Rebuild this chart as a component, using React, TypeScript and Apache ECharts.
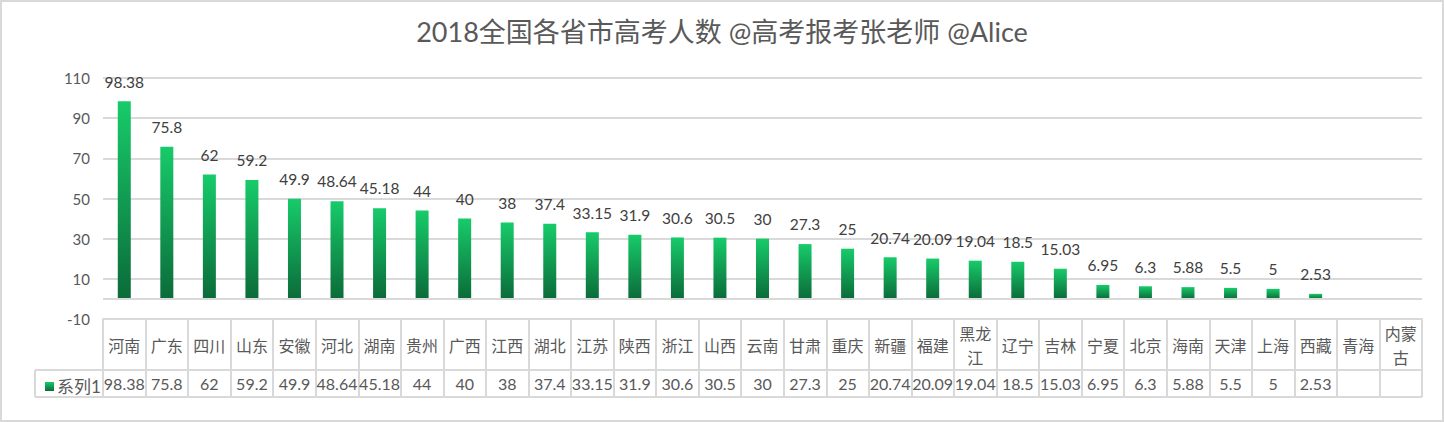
import React, { useEffect, useRef } from 'react'
import * as echarts from 'echarts'

const title = '2018全国各省市高考人数 @高考报考张老师 @Alice'
const seriesName = '系列1'

const provinces = [
  '河南', '广东', '四川', '山东', '安徽', '河北', '湖南', '贵州', '广西', '江西',
  '湖北', '江苏', '陕西', '浙江', '山西', '云南', '甘肃', '重庆', '新疆', '福建',
  '黑龙江', '辽宁', '吉林', '宁夏', '北京', '海南', '天津', '上海', '西藏', '青海', '内蒙古'
]

const examinees: (number | null)[] = [
  98.38, 75.8, 62, 59.2, 49.9, 48.64, 45.18, 44, 40, 38,
  37.4, 33.15, 31.9, 30.6, 30.5, 30, 27.3, 25, 20.74, 20.09,
  19.04, 18.5, 15.03, 6.95, 6.3, 5.88, 5.5, 5, 2.53, null, null
]

const yMin = -10
const yMax = 110
const yStep = 20

const GRID_LEFT = 103
const GRID_RIGHT = 22
const GRID_TOP = 78
const PLOT_BOTTOM = 319
const ROW_MID = 370
const TABLE_BOTTOM = 397
const LEGEND_LEFT = 35
const W = 1444
const H = 422

const lineColor = '#d9d9d9'
const textColor = '#595959'
const numFont = 'Lato, "Noto Sans CJK SC", sans-serif'
const cjkFont = '"Noto Sans CJK SC", sans-serif'

const barFill = new echarts.graphic.LinearGradient(0, 0, 0, 1, [
  { offset: 0, color: '#17cb6a' },
  { offset: 1, color: '#0b6b39' }
])

// two-line labels for the long names, as in the table
const wrapName = (v: string) => (v.length > 2 ? v.slice(0, 2) + '\n' + v.slice(2) : v)

const App: React.FC = () => {
  const chartRef = useRef<HTMLDivElement>(null)

  useEffect(() => {
    document.body.style.margin = '0'
    if (!chartRef.current) return
    const chart = echarts.init(chartRef.current, undefined, { renderer: 'svg' })

    const option: echarts.EChartsOption = {
      animation: false,
      backgroundColor: '#ffffff',
      title: {
        text: title,
        left: 'center',
        top: 13,
        textStyle: {
          fontSize: 27,
          fontWeight: 'normal',
          color: textColor,
          fontFamily: numFont
        }
      },
      legend: {
        data: [seriesName],
        left: LEGEND_LEFT + 5,
        top: ROW_MID + 3,
        icon: 'rect',
        itemWidth: 9,
        itemHeight: 9,
        itemGap: 4,
        selectedMode: false,
        textStyle: { fontSize: 17, color: textColor, fontFamily: numFont, padding: [0, 0, 0, -2] }
      },
      grid: {
        left: GRID_LEFT,
        right: GRID_RIGHT,
        top: GRID_TOP,
        bottom: H - PLOT_BOTTOM,
        containLabel: false
      },
      xAxis: [
        {
          type: 'category',
          data: provinces,
          position: 'bottom',
          axisLine: { onZero: false, lineStyle: { color: lineColor, width: 2 } },
          axisTick: {
            show: true,
            interval: 0,
            length: TABLE_BOTTOM - PLOT_BOTTOM,
            lineStyle: { color: lineColor, width: 2 }
          },
          axisLabel: {
            interval: 0,
            margin: 26,
            verticalAlign: 'middle',
            fontSize: 16,
            lineHeight: 24,
            color: textColor,
            fontFamily: cjkFont,
            formatter: wrapName
          }
        },
        {
          type: 'category',
          data: examinees.map(v => (v == null ? '' : String(v))),
          position: 'bottom',
          offset: 0,
          axisLine: { show: false, onZero: false },
          axisTick: { show: false },
          axisLabel: {
            interval: 0,
            margin: 64,
            verticalAlign: 'middle',
            fontSize: 16,
            color: textColor,
            fontFamily: numFont
          }
        }
      ],
      yAxis: {
        type: 'value',
        min: yMin,
        max: yMax,
        interval: yStep,
        axisLine: { show: false },
        axisTick: { show: false },
        axisLabel: { fontSize: 15, color: textColor, margin: 13, fontFamily: numFont },
        splitLine: { lineStyle: { color: lineColor, width: 2 } }
      },
      series: [
        {
          name: seriesName,
          type: 'bar',
          data: examinees,
          barWidth: 13,
          itemStyle: { color: barFill },
          label: {
            show: true,
            position: 'top',
            distance: 12,
            fontSize: 15.5,
            color: '#404040',
            fontFamily: numFont
          },
          markLine: {
            silent: true,
            symbol: 'none',
            label: { show: false },
            lineStyle: { color: lineColor, width: 2, type: 'solid' },
            data: [{ yAxis: 0 }]
          }
        }
      ],
      graphic: [
        {
          type: 'rect',
          shape: { x: 1, y: 1, width: W - 2, height: H - 2 },
          style: { fill: 'none', stroke: lineColor, lineWidth: 2 },
          silent: true,
          z: -10
        },
        {
          type: 'line',
          shape: { x1: LEGEND_LEFT, y1: ROW_MID, x2: W - GRID_RIGHT, y2: ROW_MID },
          style: { stroke: lineColor, lineWidth: 2 },
          silent: true
        },
        {
          type: 'line',
          shape: { x1: LEGEND_LEFT, y1: TABLE_BOTTOM, x2: W - GRID_RIGHT, y2: TABLE_BOTTOM },
          style: { stroke: lineColor, lineWidth: 2 },
          silent: true
        },
        {
          type: 'line',
          shape: { x1: LEGEND_LEFT, y1: ROW_MID, x2: LEGEND_LEFT, y2: TABLE_BOTTOM },
          style: { stroke: lineColor, lineWidth: 2 },
          silent: true
        }
      ]
    }

    chart.setOption(option)

    return () => {
      chart.dispose()
    }
  }, [])

  return <div ref={chartRef} style={{ width: W, height: H }} />
}

export default App
